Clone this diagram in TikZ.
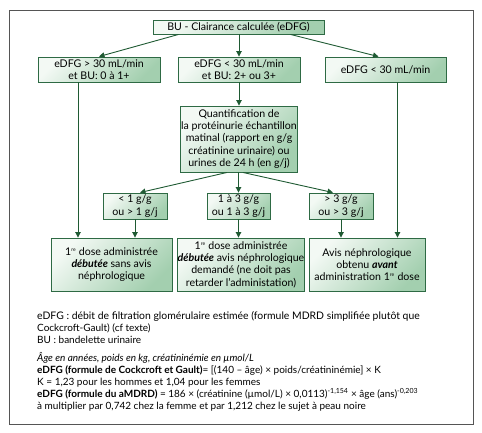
\documentclass[tikz,border=0pt]{standalone}
\usepackage{fontspec}
\setmainfont{Lato}
\usetikzlibrary{arrows.meta,positioning,calc}
\definecolor{boxLine}{HTML}{2E6A44}
\definecolor{boxLight}{HTML}{F3F9F4}
\definecolor{boxDark}{HTML}{A3CFAF}
\definecolor{arrColor}{HTML}{1F5A33}
\definecolor{frameColor}{HTML}{555555}
\tikzset{
	stepbox/.style={draw=boxLine, line width=0.9pt, top color=boxLight, bottom color=boxDark,
		shading angle=45, align=center, inner sep=0.5pt, font=\fontsize{10.6pt}{12.3pt}\selectfont},
	flow/.style={draw=arrColor, line width=0.9pt, -{Triangle[width=5.5pt,length=5.5pt]}},
	link/.style={draw=arrColor, line width=0.9pt}
}
\newcommand{\re}{1\textsuperscript{\fontsize{5pt}{5pt}\selectfont re}}
\newcommand{\legendfont}{\fontsize{10.4pt}{9.4pt}\selectfont}
\begin{document}
\begin{tikzpicture}[x=1pt,y=-1pt]
\useasboundingbox (0,0) rectangle (482,432);
\draw[frameColor, line width=0.8pt] (9,10) rectangle (473,424);
% top level
\node[stepbox, minimum width=171pt, minimum height=14pt] (top) at (238.5,27) {BU - Clairance calculée (eDFG)};
\node[stepbox, minimum width=122pt, minimum height=25pt] (r2a) at (99,69.5) {eDFG > 30 mL/min\\ et BU: 0 à 1+};
\node[stepbox, minimum width=122pt, minimum height=25pt] (r2b) at (239,69.5) {eDFG < 30 mL/min\\ et BU: 2+ ou 3+};
\node[stepbox, minimum width=121pt, minimum height=25pt] (r2c) at (385.5,69.5) {eDFG < 30 mL/min};
% proteinurie
\node[stepbox, minimum width=116pt, minimum height=66pt] (quant) at (239,139) {Quantification de\\ la protéinurie échantillon\\ matinal (rapport en g/g\\ créatinine urinaire) ou\\ urines de 24 h (en g/j)};
\node[stepbox, minimum width=64pt, minimum height=26pt] (p1) at (135,206) {< 1 g/g\\ ou > 1 g/j};
\node[stepbox, minimum width=63pt, minimum height=26pt] (p2) at (238.5,206) {1 à 3 g/g\\ ou 1 à 3 g/j};
\node[stepbox, minimum width=64pt, minimum height=26pt] (p3) at (341,206) {> 3 g/g\\ ou > 3 g/j};
% decisions
\node[stepbox, minimum width=121pt, minimum height=53pt] (d1) at (111.5,264.5) {\re{} dose administrée\\ \textbf{\textit{débutée}} sans avis\\ néphrologique};
\node[stepbox, minimum width=122pt, minimum height=53pt] (d2) at (241,264.5) {\re{} dose administrée\\ \textbf{\textit{débutée}} avis néphrologique\\ demandé (ne doit pas\\ retarder l'administation)};
\node[stepbox, minimum width=116pt, minimum height=53pt] (d3) at (367,264.5) {Avis néphrologique\\ obtenu \textbf{\textit{avant}}\\ administration \re{} dose};
% arrows
\draw[flow] ([xshift=-60pt]top.south) -- (r2a.north);
\draw[flow] (top.south -| r2b.north) -- (r2b.north);
\draw[flow] ([xshift=52pt]top.south) -- ([xshift=-7pt]r2c.north);
\draw[flow] (r2b.south) -- (quant.north);
\draw[flow] ([xshift=-12pt]quant.south) -- ([xshift=5pt]p1.north);
\draw[flow] (quant.south -| p2.north) -- (p2.north);
\draw[flow] ([xshift=4pt]quant.south) -- ([xshift=-8pt]p3.north);
\draw[flow] (p1.south) -- (p1.south |- d1.north);
\draw[flow] (p2.south) -- (p2.south |- d2.north);
\draw[flow] (p3.south) -- (p3.south |- d3.north);
\draw[flow] ([xshift=-21pt]r2a.south) -- ([xshift=-21pt]r2a.south |- d1.north);
\draw[flow] ([xshift=12pt]r2c.south) -- ([xshift=12pt]r2c.south |- d3.north);
% legend
\node[anchor=north west, align=left, inner sep=0pt] (legend) at (37,311) {\legendfont
eDFG : débit de filtration glomérulaire estimée (formule MDRD simplifiée plutôt que\\
Cockcroft-Gault) (cf texte)\\
BU : bandelette urinaire\\[6pt]
\textit{Âge en années, poids en kg, créatininémie en µmol/L}\\
\textbf{eDFG (formule de Cockcroft et Gault)}= [(140 – âge) × poids/créatininémie] × K\\
K = 1,23 pour les hommes et 1,04 pour les femmes\\
\textbf{eDFG (formule du aMDRD)} = 186 × (créatinine (µmol/L) × 0,0113)\textsuperscript{-1,154} × âge (ans)\textsuperscript{-0,203}\\
à multiplier par 0,742 chez la femme et par 1,212 chez le sujet à peau noire};
\end{tikzpicture}
\end{document}
